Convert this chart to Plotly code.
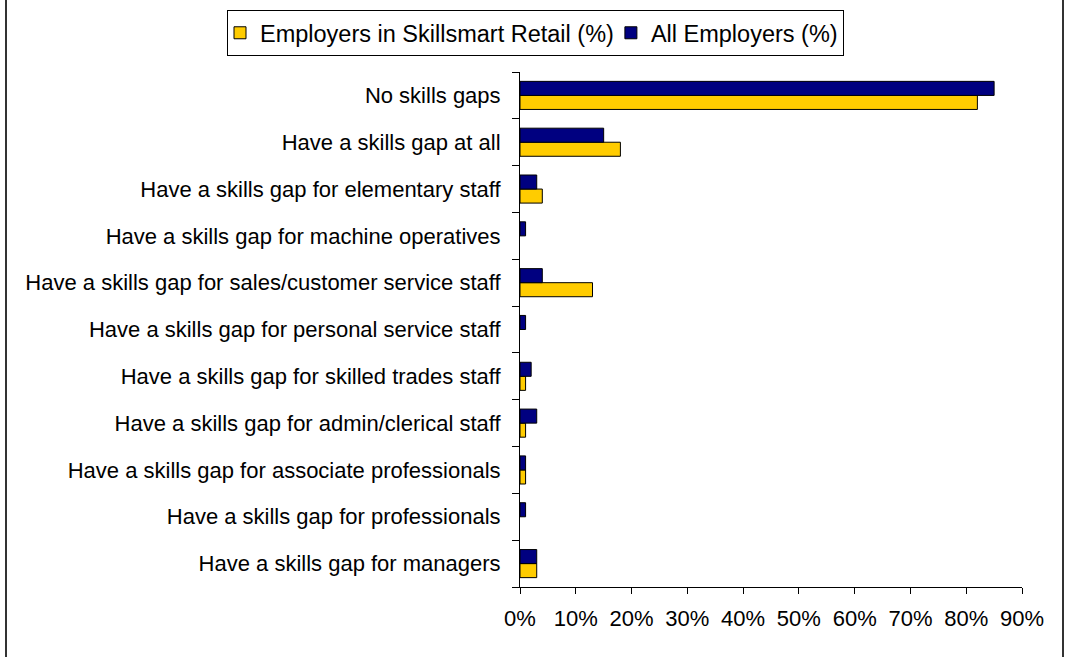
import plotly.graph_objects as go

# Categories listed bottom-to-top (as drawn on the chart)
categories = [
    "Have a skills gap for managers",
    "Have a skills gap for professionals",
    "Have a skills gap for associate professionals",
    "Have a skills gap for admin/clerical staff",
    "Have a skills gap for skilled trades staff",
    "Have a skills gap for personal service staff",
    "Have a skills gap for sales/customer service staff",
    "Have a skills gap for machine operatives",
    "Have a skills gap for elementary staff",
    "Have a skills gap at all",
    "No skills gaps",
]
skillsmart_retail = [3, 0, 1, 1, 1, 0, 13, 0, 4, 18, 82]
all_employers = [3, 1, 1, 3, 2, 1, 4, 1, 3, 15, 85]

x_tickvals = [0, 10, 20, 30, 40, 50, 60, 70, 80, 90]
x_ticktext = ["0%", "10%", "20%", "30%", "40%", "50%", "60%", "70%", "80%", "90%"]

FONT = "Liberation Sans, Arial, sans-serif"
FS = 22
LFS = 23.5


def outline_widths(vals):
    # no outline for zero-length bars (nothing drawn in the original)
    return [1 if v else 0 for v in vals]


fig = go.Figure()
fig.add_trace(go.Bar(
    y=categories, x=skillsmart_retail, orientation="h",
    name="Employers in Skillsmart Retail (%)",
    marker=dict(color="#FFCC00",
                line=dict(color="black", width=outline_widths(skillsmart_retail))),
))
fig.add_trace(go.Bar(
    y=categories, x=all_employers, orientation="h",
    name="All Employers (%)",
    marker=dict(color="#000080",
                line=dict(color="black", width=outline_widths(all_employers))),
))

W, H = 1065, 657
L, R, T, B = 520, 43, 72, 70
pw = W - L - R
ph = H - T - B

fig.update_layout(
    width=W, height=H,
    margin=dict(l=L, r=R, t=T, b=B, autoexpand=False),
    paper_bgcolor="white", plot_bgcolor="white",
    barmode="group", bargap=0.4, bargroupgap=0,
    font=dict(family=FONT, size=FS, color="black"),
    showlegend=True,
    legend=dict(
        orientation="h", x=(227 - L) / pw, xanchor="left",
        y=1 + (T - 10) / ph, yanchor="top",
        bordercolor="black", borderwidth=1, bgcolor="white",
        font=dict(family=FONT, size=LFS, color="black"),
        traceorder="normal", itemwidth=30, indentation=-8,
    ),
    xaxis=dict(
        range=[0, 90], tickmode="array", tickvals=x_tickvals, ticktext=x_ticktext,
        showgrid=False, zeroline=False,
        showline=True, linecolor="black", linewidth=1,
        ticks="outside", ticklen=6, tickcolor="black",
        ticklabelstandoff=6,
        tickfont=dict(family=FONT, size=FS, color="black"),
    ),
    yaxis=dict(
        type="category", categoryorder="array", categoryarray=categories,
        showgrid=False, zeroline=False,
        showline=True, linecolor="black", linewidth=1,
        ticks="outside", ticklen=7, tickcolor="black", tickson="boundaries",
        ticklabelstandoff=14,
        tickfont=dict(family=FONT, size=FS, color="black"),
    ),
    shapes=[
        dict(type="line", xref="paper", yref="paper",
             x0=(6 - L) / pw, x1=(6 - L) / pw, y0=-1, y1=2,
             line=dict(color="#333333", width=2)),
        dict(type="line", xref="paper", yref="paper",
             x0=(1063 - L) / pw, x1=(1063 - L) / pw, y0=-1, y1=2,
             line=dict(color="#333333", width=2)),
    ],
)

fig.write_html("out.html", config={"displayModeBar": False},
               post_script="document.body.style.margin='0px';")
